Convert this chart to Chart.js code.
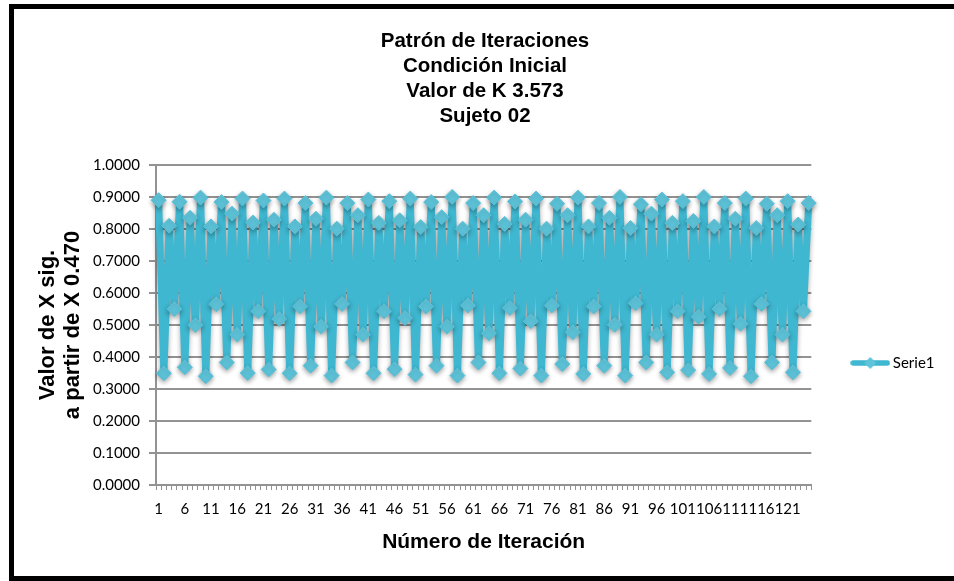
<!DOCTYPE html>
<html>
<head>
<meta charset="utf-8">
<script src="https://cdn.jsdelivr.net/npm/chart.js"></script>
<style>
  html, body { margin: 0; padding: 0; background: #fff; overflow: hidden; }
  #marco { position: absolute; left: 9px; top: 4px; width: 1100px; height: 577px; box-sizing: border-box; border: 5px solid #000; }
  #caja { position: absolute; left: 0; top: 0; width: 954px; height: 581px; }
</style>
</head>
<body>
<div id="marco"></div>
<div id="caja"><canvas id="myChart" width="954" height="581"></canvas></div>
<script>
// valores (X sig. a partir de X 0.470, K 3.573)
const serie1 = [
  0.890, 0.349, 0.810, 0.550, 0.885, 0.368, 0.835, 0.500, 0.898, 0.340,
  0.808, 0.565, 0.884, 0.383, 0.848, 0.470, 0.895, 0.350, 0.820, 0.543,
  0.889, 0.361, 0.829, 0.519, 0.895, 0.349, 0.808, 0.558, 0.881, 0.373,
  0.832, 0.495, 0.898, 0.342, 0.801, 0.566, 0.881, 0.383, 0.843, 0.470,
  0.892, 0.349, 0.819, 0.543, 0.887, 0.362, 0.827, 0.522, 0.895, 0.345,
  0.806, 0.558, 0.884, 0.373, 0.837, 0.495, 0.900, 0.342, 0.801, 0.561,
  0.881, 0.383, 0.843, 0.474, 0.898, 0.349, 0.816, 0.553, 0.886, 0.364,
  0.829, 0.512, 0.895, 0.342, 0.801, 0.561, 0.879, 0.378, 0.843, 0.477,
  0.898, 0.347, 0.808, 0.558, 0.881, 0.373, 0.835, 0.501, 0.900, 0.342,
  0.803, 0.568, 0.877, 0.383, 0.848, 0.470, 0.892, 0.352, 0.819, 0.543,
  0.887, 0.359, 0.825, 0.526, 0.900, 0.347, 0.808, 0.550, 0.881, 0.366,
  0.832, 0.504, 0.895, 0.340, 0.803, 0.566, 0.879, 0.383, 0.843, 0.470,
  0.887, 0.352, 0.814, 0.543, 0.881
]
// numero de iteracion 1..125
const iteraciones = serie1.map((v, i) => String(i + 1))
const titulo = ['Patrón de Iteraciones', 'Condición Inicial', 'Valor de K 3.573', 'Sujeto 02']
const tituloY = ['Valor de X sig.', 'a partir de X 0.470']
const tituloX = 'Número de Iteración'

const azul = '#3fb7d0'
const azulClaro = '#5ec4da'
const gris = '#939393'

Chart.defaults.font.family = 'Lato'
Chart.defaults.color = '#000'

// icono de la leyenda: linea con rombo
const icono = document.createElement('canvas')
icono.width = 40
icono.height = 14
const ic = icono.getContext('2d')
ic.strokeStyle = azul
ic.lineWidth = 5.5
ic.lineCap = 'round'
ic.beginPath(); ic.moveTo(3, 7); ic.lineTo(37, 7); ic.stroke()
ic.fillStyle = azulClaro
ic.beginPath(); ic.moveTo(20, 1); ic.lineTo(26, 7); ic.lineTo(20, 13); ic.lineTo(14, 7); ic.closePath(); ic.fill()

// sombra de la serie
const sombra = {
  id: 'sombra',
  beforeDatasetsDraw(chart) {
    const ctx = chart.ctx
    ctx.save()
    ctx.shadowColor = 'rgba(0,0,0,0.35)'
    ctx.shadowBlur = 5
    ctx.shadowOffsetY = 2
  },
  afterDatasetsDraw(chart) {
    chart.ctx.restore()
  }
}

window.graph = new Chart('myChart', {
  type: 'line',
  data: {
    labels: iteraciones,
    datasets: [{
      label: 'Serie1',
      data: serie1,
      borderColor: azul,
      backgroundColor: azulClaro,
      borderWidth: 7,
      tension: 0,
      pointStyle: 'rectRot',
      pointRadius: 7.5,
      pointBorderWidth: 1,
      pointBorderColor: '#58c1d9',
      pointBackgroundColor: azulClaro
    }]
  },
  options: {
    responsive: false,
    animation: false,
    layout: { padding: { left: 25.5, right: 9.5, top: 0, bottom: 0 } },
    plugins: {
      title: {
        display: true,
        text: titulo,
        color: '#000',
        font: { family: 'Liberation Sans', size: 20.5, weight: 'bold', lineHeight: 25 / 20.5 },
        padding: { top: 29, bottom: 36 }
      },
      legend: {
        display: true,
        position: 'right',
        align: 'start',
        title: { display: true, text: ' ', font: { size: 10, lineHeight: 1 }, padding: { top: 301.5, bottom: 0 } },
        labels: {
          usePointStyle: true,
          pointStyleWidth: 30,
          padding: 44,
          color: '#000',
          font: { size: 15 },
          generateLabels(chart) {
            const items = Chart.defaults.plugins.legend.labels.generateLabels(chart)
            items.forEach(it => { it.pointStyle = icono })
            return items
          }
        }
      },
      tooltip: { enabled: false }
    },
    scales: {
      x: {
        type: 'category',
        offset: true,
        afterFit(s) { s.height = 96 },
        grid: { offset: true, drawOnChartArea: false, tickLength: 5, color: gris, lineWidth: 1 },
        border: { display: true, color: gris, width: 2 },
        ticks: {
          autoSkip: false,
          maxRotation: 0,
          minRotation: 0,
          padding: 10,
          font: { size: 15 },
          color: '#000',
          callback(v, i) { return i % 5 === 0 ? this.getLabelForValue(v) : '' }
        },
        title: {
          display: true,
          text: tituloX,
          color: '#000',
          font: { family: 'Liberation Sans', size: 21, weight: 'bold', lineHeight: 1.2 },
          padding: { top: 0, bottom: 26.4 }
        }
      },
      y: {
        min: 0,
        max: 1,
        afterFit(s) { s.width = 130.5 },
        grid: { color: gris, lineWidth: 2, tickLength: 7 },
        border: { display: true, color: gris, width: 2 },
        ticks: {
          stepSize: 0.1,
          padding: 9,
          font: { size: 15 },
          color: '#000',
          callback(v) { return Number(v).toFixed(4) }
        },
        title: {
          display: true,
          text: tituloY,
          color: '#000',
          font: { family: 'Liberation Sans', size: 22, weight: 'bold', lineHeight: 25 / 22 },
          padding: { top: 10, bottom: 0 }
        }
      }
    }
  },
  plugins: [sombra]
})
</script>
</body>
</html>
